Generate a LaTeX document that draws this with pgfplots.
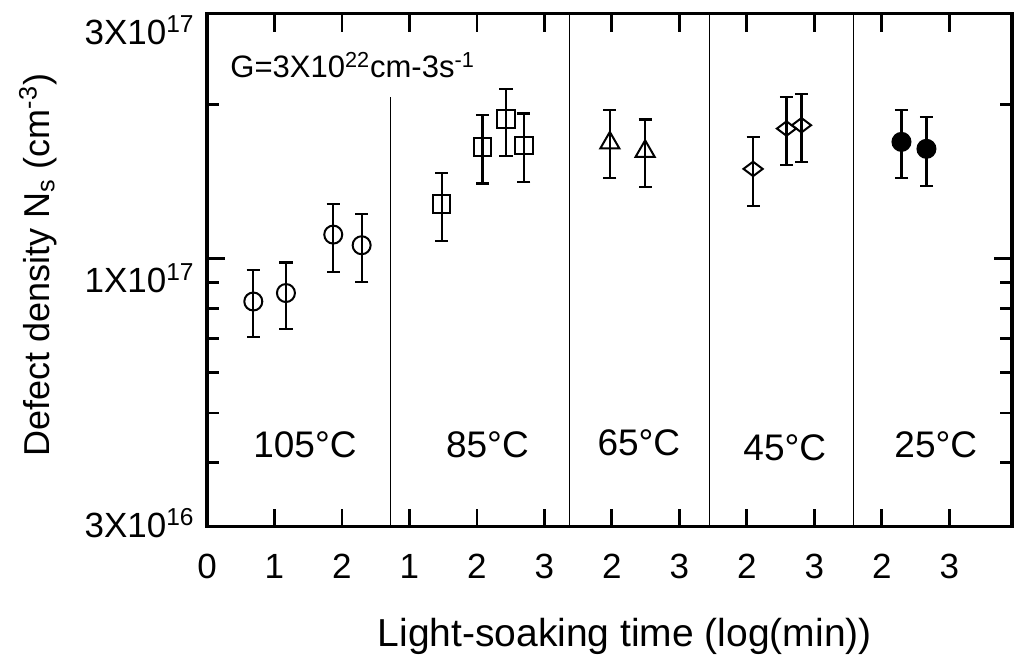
\documentclass[border=0pt]{standalone}
\usepackage{fontspec}
\setmainfont{Liberation Sans}
\usepackage{pgfplots}
\pgfplotsset{compat=1.18}
\pgfplotsset{ebar/.style={black, only marks,
  error bars/y dir=both, error bars/y explicit, error bars/error mark=-,
  error bars/error bar style={line width=1.1pt},
  error bars/error mark options={rotate=90, mark size=3.3pt, line width=1.1pt}}}
\begin{document}
\begin{tikzpicture}
\useasboundingbox (-103.5pt,-70pt) rectangle (404pt,263.5pt);
\begin{axis}[
  at={(0pt,0pt)}, anchor=south west,
  scale only axis, width=402.5pt, height=256.5pt,
  ymode=log, ymin=3e16, ymax=3e17,
  xmin=0, xmax=11.93,
  clip=false,
  axis line style={line width=1.6pt},
  tick align=inside, xtick pos=both, ytick pos=both,
  major tick length=9pt, minor tick length=6pt,
  tick style={black, line width=1.4pt},
  xtick={0,1,2,3,4,5,6,7,8,9,10,11},
  xticklabels={0,1,2,1,2,3,2,3,2,3,2,3},
  xticklabel style={font=\fontsize{17.5}{20}\selectfont, yshift=-10pt},
  ytick={3e16,1e17,3e17},
  yticklabels={{\smash{\raisebox{-5.5pt}{3X10\textsuperscript{16}}}},{\smash{\raisebox{-17pt}{1X10\textsuperscript{17}}}},{\smash{\raisebox{-15.5pt}{3X10\textsuperscript{17}}}}},
  yticklabel style={font=\fontsize{17.5}{20}\selectfont, anchor=east, inner sep=0pt, xshift=-6pt},
  minor ytick={4e16,5e16,6e16,7e16,8e16,9e16,2e17},
  xlabel={Light-soaking time (log(min))},
  xlabel style={font=\fontsize{19.5}{22}\selectfont, at={(axis description cs:0.519,-0.214)}, anchor=center},
  ylabel={Defect density N\textsubscript{s} (cm\textsuperscript{-3})},
  ylabel style={font=\fontsize{18}{21}\selectfont, at={(axis description cs:-0.21,0.51)}, anchor=center},
]
% dividers
\addplot[black, line width=0.5pt] coordinates {(2.726,3e16) (2.726,2.07e17)};
\addplot[black, line width=0.5pt] coordinates {(5.378,3e16) (5.378,3e17)};
\addplot[black, line width=0.5pt] coordinates {(7.452,3e16) (7.452,3e17)};
\addplot[black, line width=0.5pt] coordinates {(9.585,3e16) (9.585,3e17)};
% 105 C
\addplot[ebar, mark=o, mark size=4.5pt, mark options={line width=1pt, solid}] table[x=x, y=y, y error plus=ep, y error minus=em] {
x y ep em
0.686 8.25e16 1.24e16 1.22e16
1.170 8.57e16 1.26e16 1.27e16
1.871 1.114e17 1.66e16 1.71e16
2.292 1.062e17 1.60e16 1.62e16
};
% 85 C
\addplot[ebar, mark=square, mark size=4.4pt, mark options={line width=1pt, solid}] table[x=x, y=y, y error plus=ep, y error minus=em] {
x y ep em
3.477 1.278e17 1.91e16 1.94e16
4.084 1.652e17 2.52e16 2.51e16
4.430 1.873e17 2.71e16 2.89e16
4.696 1.661e17 2.57e16 2.52e16
};
% 65 C
\addplot[ebar, mark=triangle, mark size=5.5pt, mark options={line width=1pt, solid}] table[x=x, y=y, y error plus=ep, y error minus=em] {
x y ep em
5.970 1.681e17 2.66e16 2.44e16
6.493 1.619e17 2.48e16 2.39e16
};
% 45 C
\addplot[ebar, mark=diamond, mark size=4.8pt, mark options={line width=1pt, solid, rotate=90}] table[x=x, y=y, y error plus=ep, y error minus=em] {
x y ep em
8.093 1.496e17 2.28e16 2.31e16
8.588 1.793e17 2.71e16 2.70e16
8.810 1.820e17 2.72e16 2.79e16
};
% 25 C
\addplot[ebar, mark=*, mark size=4.5pt, mark options={line width=1pt, solid, fill=black}] table[x=x, y=y, y error plus=ep, y error minus=em] {
x y ep em
10.292 1.689e17 2.58e16 2.52e16
10.662 1.637e17 2.50e16 2.49e16
};
\node[anchor=base west, inner sep=0pt, font=\fontsize{15.5}{18}\selectfont] at (axis cs:0.341,2.255e17) {G=3X10\textsuperscript{22}cm-3s\textsuperscript{-1}};
\node[anchor=base, inner sep=0pt, font=\fontsize{18.5}{21}\selectfont] at (axis cs:1.452,4.09e16) {105°C};
\node[anchor=base, inner sep=0pt, font=\fontsize{18.5}{21}\selectfont] at (axis cs:4.156,4.09e16) {85°C};
\node[anchor=base, inner sep=0pt, font=\fontsize{18.5}{21}\selectfont] at (axis cs:6.400,4.13e16) {65°C};
\node[anchor=base, inner sep=0pt, font=\fontsize{18.5}{21}\selectfont] at (axis cs:8.563,4.05e16) {45°C};
\node[anchor=base, inner sep=0pt, font=\fontsize{18.5}{21}\selectfont] at (axis cs:10.800,4.09e16) {25°C};
\end{axis}
\end{tikzpicture}
\end{document}
